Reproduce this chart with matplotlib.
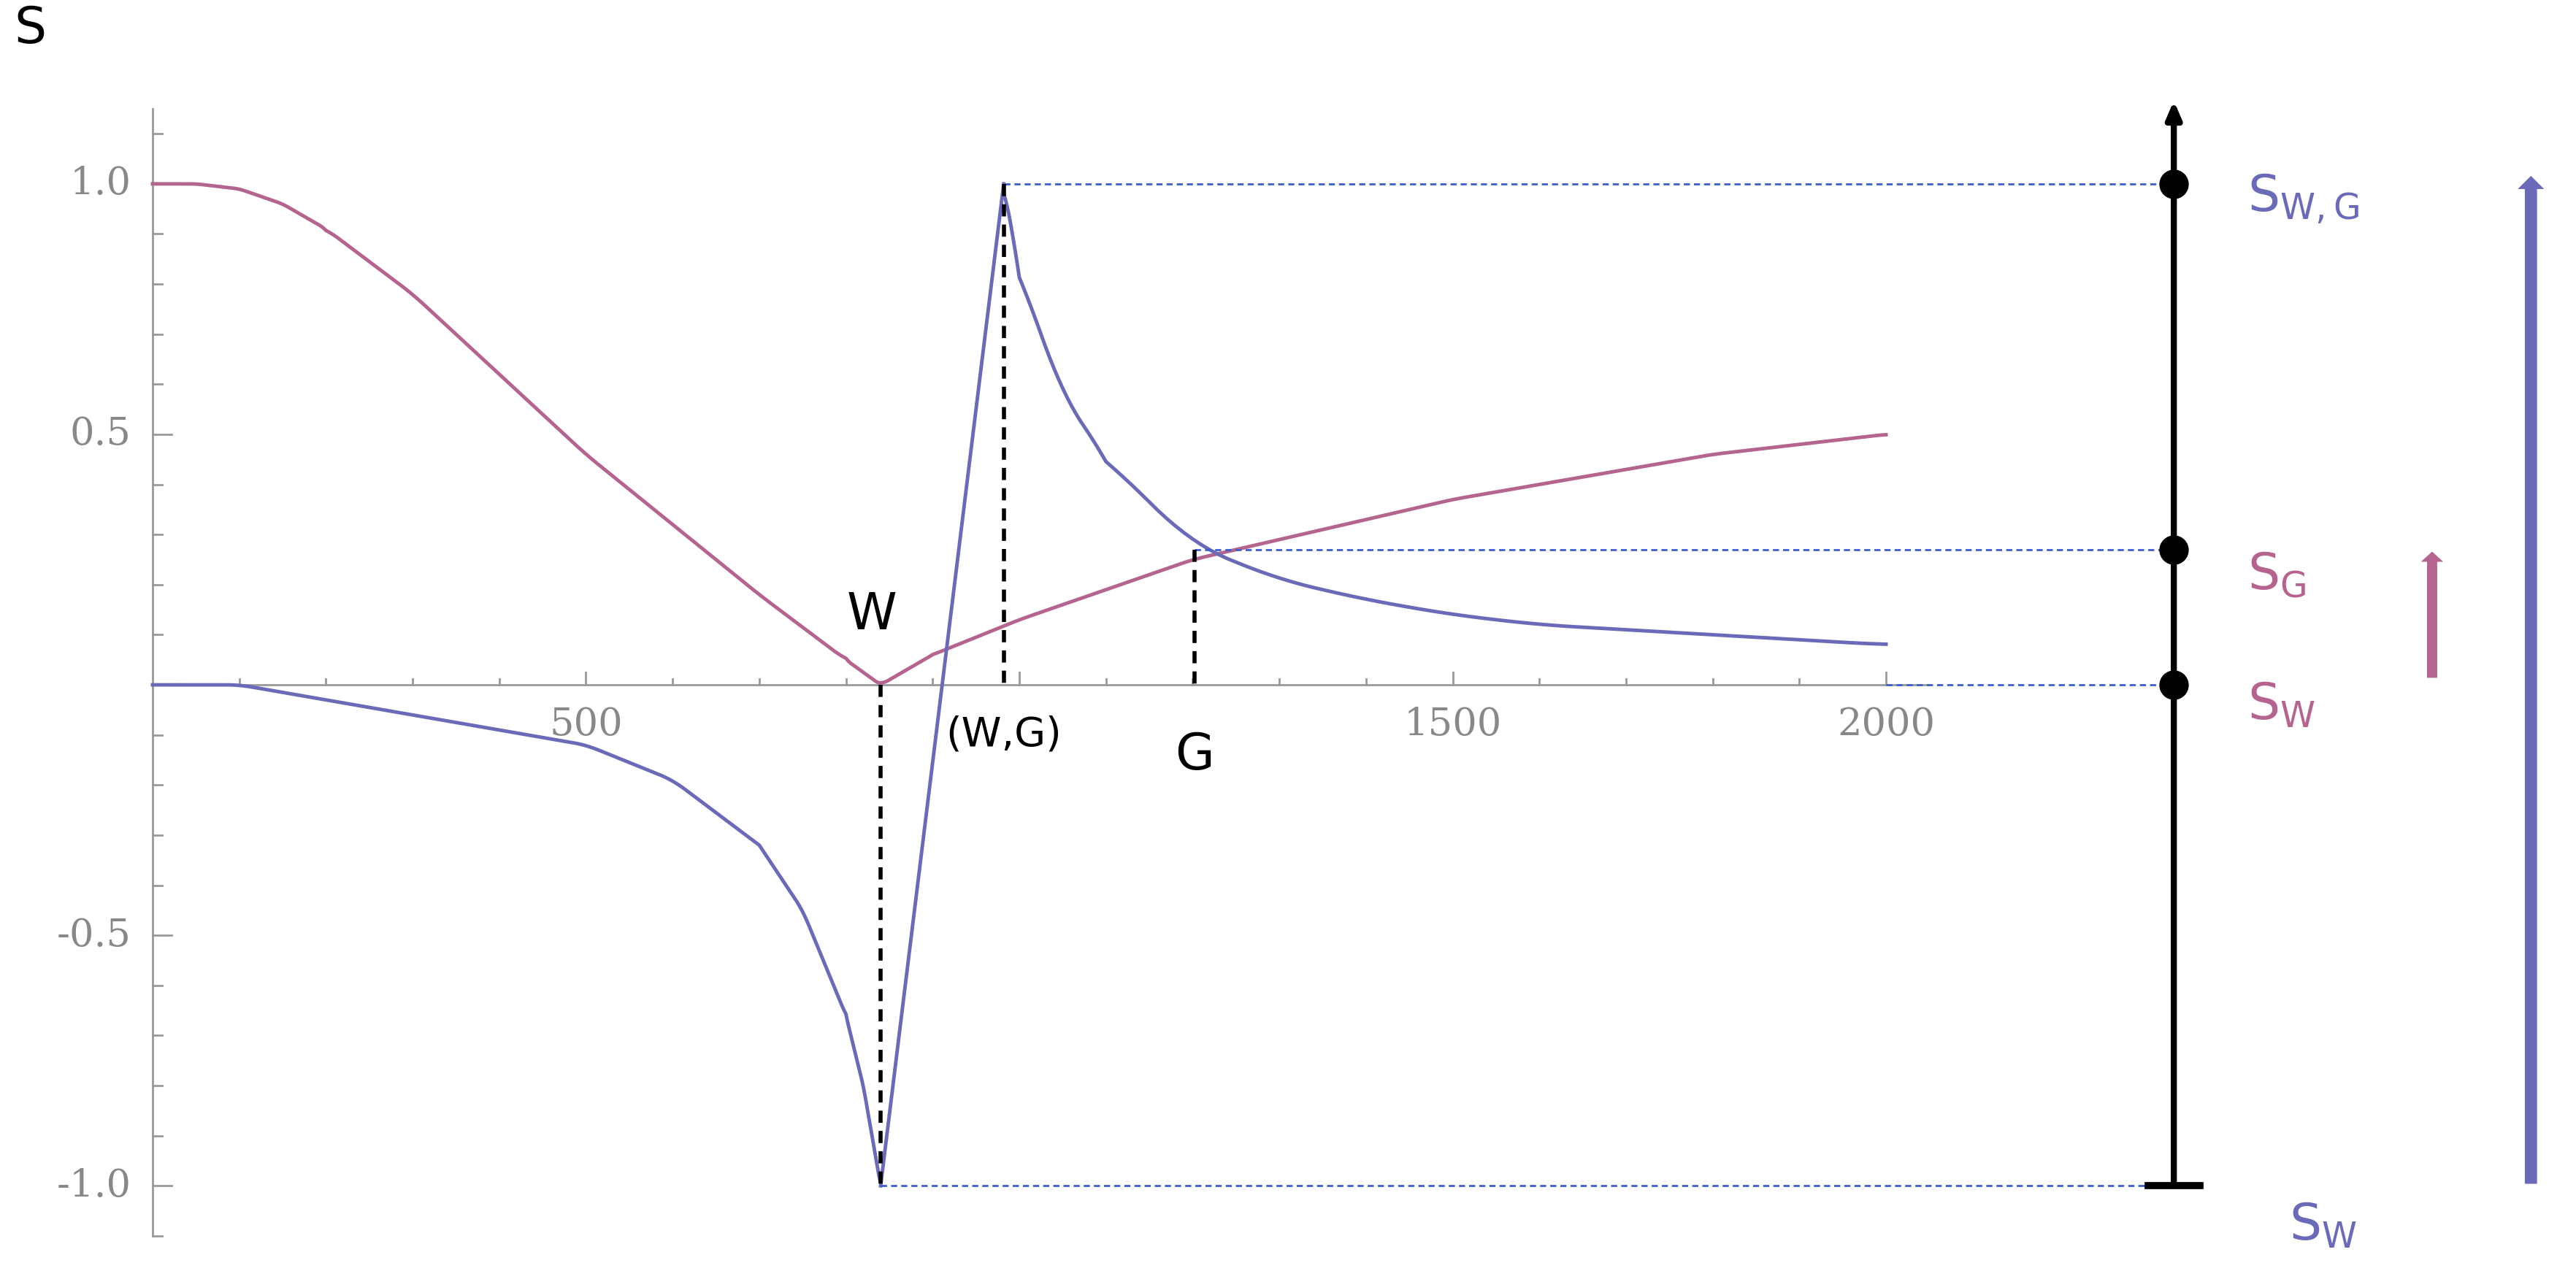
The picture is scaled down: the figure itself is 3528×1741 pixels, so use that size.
import matplotlib
matplotlib.use("Agg")
import matplotlib.pyplot as plt
import numpy as np

pink_x = [0, 50, 100, 150, 200, 300, 400, 500, 600, 700, 800, 840, 900, 1000, 1100, 1200, 1300, 1400, 1500, 1600, 1700, 1800, 1900, 2000]
pink_y = [1.0, 1.0, 0.99, 0.96, 0.91, 0.78, 0.62, 0.46, 0.32, 0.18, 0.05, 0.0, 0.06, 0.13, 0.19, 0.25, 0.29, 0.33, 0.37, 0.40, 0.43, 0.46, 0.48, 0.50]
blue_x = [0, 100, 200, 300, 400, 500, 600, 700, 750, 800, 820, 840, 982, 1000, 1050, 1100, 1200, 1300, 1400, 1500, 1600, 1700, 1800, 1900, 2000]
blue_y = [0.0, 0.0, -0.03, -0.06, -0.09, -0.12, -0.19, -0.32, -0.45, -0.66, -0.80, -1.0, 1.0, 0.82, 0.58, 0.45, 0.28, 0.21, 0.17, 0.14, 0.12, 0.11, 0.10, 0.09, 0.08]
xticks = [500, 1500, 2000]
yticks = [1.0, 0.5, -0.5, -1.0]
W, WG, G = 840, 982, 1202
S_G = 0.27
xr = 2332

PINK = "#b5648f"
BLUE = "#6a6ab8"
DBLUE = "#3b5fcf"

def smooth(xs, ys, n=30):
    ox, oy = [], []
    xs = np.array(xs, float); ys = np.array(ys, float)
    for i in range(len(xs) - 1):
        t = np.linspace(0, 1, n, endpoint=False)
        ox.extend(xs[i] + t * (xs[i+1] - xs[i])); oy.extend(ys[i] + t * (ys[i+1] - ys[i]))
    ox.append(xs[-1]); oy.append(ys[-1])
    ox = np.array(ox); oy = np.array(oy)
    k = 9
    ker = np.ones(k) / k
    ys2 = oy.copy()
    pad = np.pad(oy, k // 2, mode="edge")
    sm = np.convolve(pad, ker, mode="valid")
    return ox, sm

fig = plt.figure(figsize=(35.28, 17.41), dpi=100)
ax = fig.add_axes([0, 0, 1, 1])
ax.set_xlim(-176, 2796)
ax.set_ylim(-1.17, 1.367)
ax.axis("off")

grey = "#999999"
ax.plot([0, 0], [-1.1, 1.15], color=grey, lw=2)
ax.plot([0, 2050], [0, 0], color=grey, lw=2)
for t in range(100, 2001, 100):
    h = 0.025 if t % 500 == 0 else 0.012
    ax.plot([t, t], [0, h], color=grey, lw=2)
for t in np.arange(-1.1, 1.11, 0.1):
    h = 22 if abs(round(t * 10) % 5) == 0 else 11
    ax.plot([0, h], [t, t], color=grey, lw=2)
for t in xticks:
    ax.text(t, -0.08, str(t), ha="center", va="center", fontsize=38, color="#888888", family="DejaVu Serif")
for t in yticks:
    ax.text(-25, t, f"{t:.1f}", ha="right", va="center", fontsize=38, color="#888888", family="DejaVu Serif")

px, py = smooth(pink_x, pink_y)
ax.plot(px, py, color=PINK, lw=3.5)
# blue: keep sharp corners
bx = np.array(blue_x, float); by = np.array(blue_y, float)
lx, ly = smooth(blue_x[:12], blue_y[:12]); ax.plot(lx, ly, color=BLUE, lw=3.5)
ax.plot([W, WG], [-1.0, 1.0], color=BLUE, lw=3.5)
rx, ry = smooth(blue_x[12:], blue_y[12:], n=10); ax.plot(rx, ry, color=BLUE, lw=3.5)

dkw = dict(color=DBLUE, lw=2, ls=(0, (3, 2)))
ax.plot([WG, xr], [1.0, 1.0], **dkw)
ax.plot([G, xr], [S_G, S_G], **dkw)
ax.plot([2000, xr], [0, 0], **dkw)
ax.plot([W, xr], [-1.0, -1.0], **dkw)
bkw = dict(color="black", lw=4, ls=(0, (3, 2)))
ax.plot([W, W], [0, -1.0], **bkw)
ax.plot([WG, WG], [1.0, 0], **bkw)
ax.plot([G, G], [S_G, 0], **bkw)

ax.annotate("", xy=(xr, 1.17), xytext=(xr, -1.0),
            arrowprops=dict(arrowstyle="-|>,head_width=0.6,head_length=1.4", color="black", lw=6))
ax.plot([xr - 30, xr + 30], [-1.0, -1.0], color="black", lw=7)
ax.plot([xr] * 3, [1.0, S_G, 0], "o", color="black", ms=28)

ax.annotate("", xy=(2630, 0.27), xytext=(2630, 0.01),
            arrowprops=dict(arrowstyle="simple,head_width=2.2,head_length=1.0,tail_width=1.0", color=PINK, lw=0))
ax.annotate("", xy=(2744, 1.02), xytext=(2744, -1.0),
            arrowprops=dict(arrowstyle="simple,head_width=2.6,head_length=1.3,tail_width=1.2", color=BLUE, lw=0))

fs = 50
ax.text(2417, 0.97, r"$\mathregular{S_{W,G}}$", color=BLUE, fontsize=fs, va="center")
ax.text(2417, 0.22, r"$\mathregular{S_{G}}$", color=PINK, fontsize=fs, va="center")
ax.text(2417, -0.04, r"$\mathregular{S_{W}}$", color=PINK, fontsize=fs, va="center")
ax.text(2465, -1.08, r"$\mathregular{S_{W}}$", color=BLUE, fontsize=fs, va="center")
ax.text(-160, 1.31, "S", fontsize=fs, va="center")
ax.text(W - 10, 0.14, "W", fontsize=fs, ha="center", va="center")
ax.text(WG, -0.1, "(W,G)", fontsize=40, ha="center", va="center")
ax.text(G, -0.14, "G", fontsize=fs, ha="center", va="center")

fig.savefig("out.png", dpi=100)
